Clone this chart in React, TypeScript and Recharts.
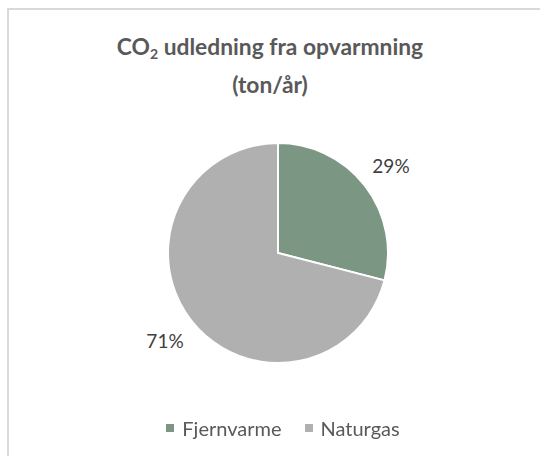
import React from 'react'
import { PieChart, Pie, Cell, Legend } from 'recharts'

const categories = ['Fjernvarme', 'Naturgas']
const shares = [29, 71]
const colors = ['#7b9683', '#b0b0b0']

const data = categories.map((name, i) => ({ name, value: shares[i] }))

const RAD = Math.PI / 180
const font = 'Lato, "Open Sans", sans-serif'

function renderLabel(props: any) {
  const { cx, cy, midAngle, outerRadius, percent } = props
  const r = outerRadius + 33
  const x = cx + r * Math.cos(-midAngle * RAD)
  const y = cy + r * Math.sin(-midAngle * RAD)
  return (
    <text x={x} y={y} fill="#404040" fontSize={19} fontFamily={font} textAnchor="middle" dominantBaseline="central">
      {`${Math.round(percent * 100)}%`}
    </text>
  )
}

function LegendContent({ payload }: any) {
  return (
    <div style={{ display: 'flex', justifyContent: 'center', gap: 23, fontFamily: font, fontSize: 20, color: '#595959' }}>
      {(payload || []).map((p: any) => (
        <div key={p.value} style={{ display: 'flex', alignItems: 'center' }}>
          <span style={{ display: 'inline-block', width: 8, height: 8, background: p.color, marginRight: 8 }} />
          {p.value}
        </div>
      ))}
    </div>
  )
}

export default function App() {
  return (
    <div style={{ position: 'fixed', left: 0, top: 0, width: 540, height: 456, background: '#fff' }}>
      <div style={{ position: 'absolute', left: 7, top: 8, right: 0, bottom: 0, borderTop: '2px solid #d9d9d9', borderLeft: '2px solid #d9d9d9' }} />
      <div style={{ position: 'absolute', left: 8, width: 524, top: 31, textAlign: 'center', fontFamily: font, fontWeight: 700, fontSize: 22.8, lineHeight: '30px', color: '#595959' }}>
        CO<sub style={{ fontSize: 14, verticalAlign: -4 }}>2</sub> udledning fra opvarmning
        <br />
        (ton/år)
      </div>
      <PieChart width={540} height={456} style={{ position: 'absolute', left: 0, top: 0 }}>
        <Pie
          data={data}
          dataKey="value"
          nameKey="name"
          cx={273}
          cy={248}
          outerRadius={110}
          startAngle={90}
          endAngle={-270}
          stroke="#ffffff"
          strokeWidth={2}
          label={renderLabel}
          labelLine={false}
          isAnimationActive={false}
        >
          {data.map((d, i) => (
            <Cell key={d.name} fill={colors[i]} />
          ))}
        </Pie>
        <Legend
          content={<LegendContent />}
          wrapperStyle={{ left: 13, width: 540, top: 416 }}
        />
      </PieChart>
    </div>
  )
}
